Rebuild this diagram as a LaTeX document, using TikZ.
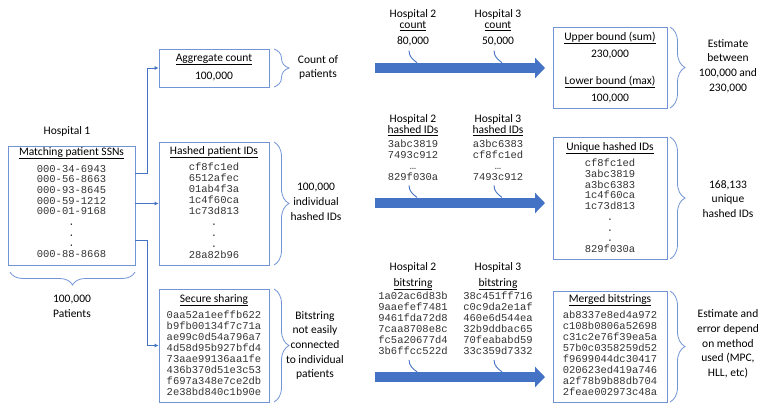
\documentclass[tikz,border=0pt]{standalone}
\usepackage{fontspec}
\setmainfont{Carlito}
\newfontfamily\hashfont{Liberation Mono}
\usetikzlibrary{positioning,arrows.meta,decorations.pathreplacing}
\definecolor{boxblue}{RGB}{114,148,212}
\definecolor{flowblue}{RGB}{68,114,196}

\begin{document}
\begin{tikzpicture}[x=1pt,y=-1pt,
  txt/.style={font=\fontsize{11.5}{14.7}\selectfont, align=center, inner sep=0pt},
  lbl/.style={font=\fontsize{11.5}{14.7}\selectfont, inner sep=0pt, anchor=base},
  hx/.style={font=\hashfont\fontsize{10.5}{11}\selectfont, text=black!80, inner sep=0pt, anchor=base},
  brc/.style={draw=boxblue, line width=0.8pt, decorate, decoration={brace, amplitude=#1, aspect=0.5}},
  brc/.default=15pt,
  conn/.style={draw=flowblue, line width=0.75pt, -{Latex[length=4pt,width=4pt]}},
  flow/.style={draw=flowblue, line width=10pt, -{Triangle[length=10pt,width=20pt]}},
  tagline/.style={draw=flowblue, line width=0.9pt}]
\tikzstyle{bx}=[draw=boxblue, line width=0.8pt, inner sep=0pt]
\useasboundingbox (0,0) rectangle (778,413);

\node[lbl] (hosp1) at (67,134) {Hospital 1};
\node[bx, minimum width=127pt, minimum height=119pt] (ssn) at (71.5,205.5) {};
\node[lbl] (ssnt) at (71.5,155) {\underline{Matching patient SSNs}};
\foreach \t [count=\i] in {000-34-6943,000-56-8663,000-93-8645,000-59-1212,000-01-9168,.,.,.,000-88-8668}
  \node[hx] (ssn\i) at (71.5,161.3+10.7*\i) {\t};
\draw[brc=13pt] (135,272) -- (10,272);
\node[txt] (npat) at (72,306) {100,000\\Patients};

\node[bx, minimum width=110pt, minimum height=38pt] (agg) at (214,68) {};
\node[lbl] (aggt) at (214,61) {\underline{Aggregate count}};
\node[lbl] (aggv) at (214,79) {100,000};

\node[bx, minimum width=110pt, minimum height=123pt] (hash) at (214,203.5) {};
\node[lbl] (hasht) at (214,154) {\underline{Hashed patient IDs}};
\foreach \t [count=\i] in {cf8fc1ed,6512afec,01ab4f3a,1c4f60ca,1c73d813,.,.,.,28a82b96}
  \node[hx] (hid\i) at (214,159.7+11*\i) {\t};

\node[bx, minimum width=110pt, minimum height=113pt] (sec) at (214,345.5) {};
\node[lbl] (sect) at (214,302) {\underline{Secure sharing}};
\foreach \t [count=\i] in {0aa52a1eeffb622,b9fb00134f7c71a,ae99c0d54a796a7,4d58d95b927bfd4,73aae99136aa1fe,436b370d51e3c53,f697a348e7ce2db,2e38bd840c1b90e}
  \node[hx] (sec\i) at (214,307.7+11*\i) {\t};

\draw[conn] (ssn.east |- 0,173) -- (147,173) |- (agg.west);
\draw[conn] (ssn.east |- hash.west) -- (hash.west);
\draw[conn] (ssn.east |- 0,240) -- (147,240) |- (sec.west);

\draw[brc] (274,49) -- (274,87);
\draw[brc] (274,142) -- (274,265);
\draw[brc] (274,289) -- (274,402);
\node[txt] (cnt) at (318,67.5) {Count of\\patients};
\node[txt] (indiv) at (316,202) {100,000\\individual\\hashed IDs};
\node[txt] (notconn) at (315,345.5) {Bitstring\\not easily\\connected\\to individual\\patients};

\node[lbl] (h2cnt1) at (413,17) {Hospital 2};
\node[lbl] (h2cnt2) at (413,28.5) {\underline{count}};
\node[lbl] (h2cnt3) at (413,44) {80,000};
\node[lbl] (h3cnt1) at (498,17) {Hospital 3};
\node[lbl] (h3cnt2) at (498,28.5) {\underline{count}};
\node[lbl] (h3cnt3) at (498,44) {50,000};
\foreach \x/\h in {413/2,498/3}{
  \node[lbl] (hid\h top) at (\x,122) {Hospital \h};
  \node[lbl] (hid\h sub) at (\x,133.5) {\underline{hashed IDs}};
  \node[lbl] (bit\h top) at (\x,270) {Hospital \h};
  \node[lbl] (bit\h sub) at (\x,286) {\underline{bitstring}};
}
\foreach \t [count=\i] in {3abc3819,7493c912,…,829f030a}
  \node[hx] (h2hid\i) at (413,136.9+10.8*\i) {\t};
\foreach \t [count=\i] in {a3bc6383,cf8fc1ed,…,7493c912}
  \node[hx] (h3hid\i) at (498,136.9+10.8*\i) {\t};
\foreach \t [count=\i] in {1a02ac6d83b,9aaefef7481,9461fda72d8,7caa8708e8c,fc5a20677d4,3b6ffcc522d}
  \node[hx] (h2bit\i) at (413,288.5+11*\i) {\t};
\foreach \t [count=\i] in {38c451ff716,c0c9da2e1af,460e6d544ea,32b9ddbac65,70feababd59,33c359d7332}
  \node[hx] (h3bit\i) at (498,288.5+11*\i) {\t};

\coordinate (a1s) at (375,68);  \coordinate (a1e) at (545,68);
\coordinate (a2s) at (375,203); \coordinate (a2e) at (545,203);
\coordinate (a3s) at (375,377); \coordinate (a3e) at (545,377);
\draw[flow] (a1s) -- (a1e);
\draw[flow] (a2s) -- (a2e);
\draw[flow] (a3s) -- (a3e);

\foreach \n in {h2cnt3,h3cnt3,h2hid4,h3hid4,h2bit6,h3bit6}
  \draw[tagline] ([xshift=-4pt,yshift=-5pt]\n.south) .. controls +(0,6) and +(-4,-3) .. ++(8,12);

\node[bx, minimum width=114pt, minimum height=81pt] (bound) at (610,67.5) {};
\node[lbl] (upt) at (610,40) {\underline{Upper bound (sum)}};
\node[lbl] (upv) at (610,57) {230,000};
\node[lbl] (lowt) at (610,84) {\underline{Lower bound (max)}};
\node[lbl] (lowv) at (610,101) {100,000};

\node[bx, minimum width=114pt, minimum height=122pt] (uniq) at (610,198) {};
\node[lbl] (uniqt) at (610,150) {\underline{Unique hashed IDs}};
\foreach \t [count=\i] in {cf8fc1ed,3abc3819,a3bc6383,1c4f60ca,1c73d813,.,.,.,829f030a}
  \node[hx] (uid\i) at (610,155.95+10.75*\i) {\t};

\node[bx, minimum width=114pt, minimum height=111pt] (merged) at (610,346.5) {};
\node[lbl] (mrgt) at (610,302) {\underline{Merged bitstrings}};
\foreach \t [count=\i] in {ab8337e8ed4a972,c108b0806a52698,c31c2e76f39ea5a,57b0c0358259d52,f9699044dc30417,020623ed419a746,a2f78b9b88db704,2feae002973c48a}
  \node[hx] (mrg\i) at (610,307.7+11*\i) {\t};

\draw[brc] (670,27) -- (670,108);
\draw[brc] (670,137) -- (670,259);
\draw[brc] (670,291) -- (670,402);
\node[txt] (est) at (728,66) {Estimate\\between\\100,000 and\\230,000};
\node[txt] (nuniq) at (728,199) {168,133\\unique\\hashed IDs};
\node[txt] (dep) at (728,344) {Estimate and\\error depend\\on method\\used (MPC,\\HLL, etc)};
\end{tikzpicture}
\end{document}
